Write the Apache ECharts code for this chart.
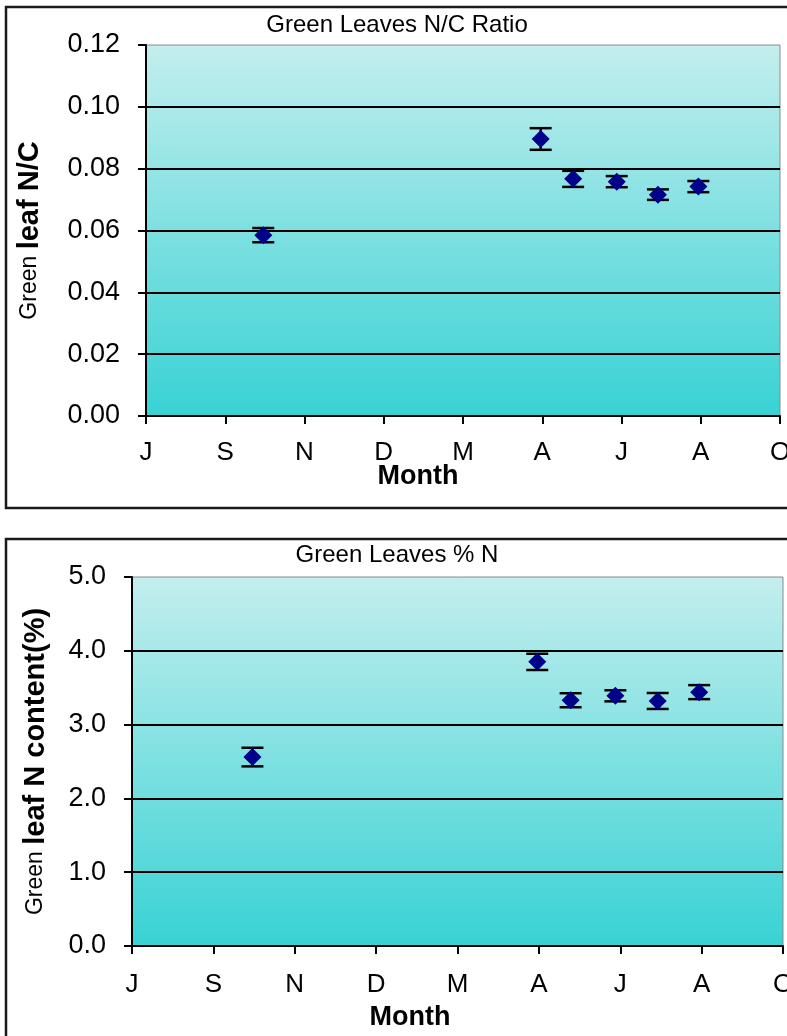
<!DOCTYPE html>
<html lang="en">
<head>
<meta charset="UTF-8">
<title>Green Leaves</title>
<script src="https://cdn.jsdelivr.net/npm/echarts@6/dist/echarts.min.js"></script>
<style>
  html, body { margin: 0; padding: 0; background: #fff; }
</style>
</head>
<body>
<div id="main" style="width:787px;height:1036px;"></div>
<script type="text/javascript">
// month positions on the time axis (0 = first J tick, 1 unit = one tick step)
var monthLabels = ['J', 'S', 'N', 'D', 'M', 'A', 'J', 'A', 'O'];
var sampleX = [1.48, 4.98, 5.39, 5.94, 6.46, 6.97];

// top chart: N/C ratio
var ncRatio = [0.0585, 0.0896, 0.0767, 0.0758, 0.0716, 0.0742];
var ncErr = [0.0023, 0.0035, 0.0026, 0.0018, 0.0017, 0.0018];

// bottom chart: % N
var nPct = [2.56, 3.85, 3.33, 3.39, 3.32, 3.44];
var nErr = [0.126, 0.11, 0.095, 0.075, 0.108, 0.095];

var FONT = '"Liberation Sans", Arial, sans-serif';

function pts(ys) {
    return sampleX.map(function (x, i) { return [x, ys[i]]; });
}
function errPts(ys, es) {
    return sampleX.map(function (x, i) { return [x, ys[i], es[i]]; });
}

function plotBg() {
    return new echarts.graphic.LinearGradient(0, 0, 0, 1, [
        { offset: 0, color: '#c4eeee' },
        { offset: 1, color: '#38d2d4' }
    ]);
}

function errorBar(params, api) {
    var x = api.value(0), y = api.value(1), e = api.value(2);
    var hi = api.coord([x, y + e]);
    var lo = api.coord([x, y - e]);
    var w = 11;
    var st = { stroke: '#000', lineWidth: 2.5 };
    return {
        type: 'group',
        children: [
            { type: 'line', shape: { x1: hi[0], y1: hi[1], x2: lo[0], y2: lo[1] }, style: st },
            { type: 'line', shape: { x1: hi[0] - w, y1: hi[1], x2: hi[0] + w, y2: hi[1] }, style: st },
            { type: 'line', shape: { x1: lo[0] - w, y1: lo[1], x2: lo[0] + w, y2: lo[1] }, style: st }
        ]
    };
}

function xAxisOf(idx, margin) {
    return {
        type: 'value', gridIndex: idx,
        min: 0, max: 8, interval: 1,
        axisLine: { lineStyle: { color: '#000', width: 2 } },
        axisTick: { length: 8, lineStyle: { color: '#000', width: 2 } },
        axisLabel: {
            margin: margin, color: '#000', fontSize: 26, fontFamily: FONT,
            formatter: function (v) { return monthLabels[Math.round(v)]; }
        },
        splitLine: { show: false }
    };
}

function yAxisOf(idx, max, interval, digits, gap, nameText) {
    return {
        type: 'value', gridIndex: idx,
        min: 0, max: max, interval: interval,
        name: nameText,
        nameLocation: 'middle',
        nameGap: gap,
        nameTextStyle: {
            rich: {
                a: { fontSize: 23, fontFamily: FONT, color: '#000' },
                b: { fontSize: 29, fontFamily: FONT, fontWeight: 'bold', color: '#000' }
            }
        },
        axisLine: { show: true, lineStyle: { color: '#000', width: 2 } },
        axisTick: { show: true, length: 8, lineStyle: { color: '#000', width: 2 } },
        axisLabel: {
            margin: 26, color: '#000', fontSize: 27, fontFamily: FONT,
            formatter: function (v) { return v.toFixed(digits); }
        },
        splitLine: { show: true, showMaxLine: false, lineStyle: { color: '#000', width: 2 } }
    };
}

var myChart = echarts.init(document.getElementById('main'), null, { renderer: 'canvas' });

option = {
    animation: false,
    grid: [
        { left: 146, top: 45, width: 634, height: 371, show: true, outerBoundsMode: 'none',
          containLabel: false,
          backgroundColor: plotBg(), borderColor: '#8a8a8a', borderWidth: 1 },
        { left: 132, top: 577, width: 651, height: 369, show: true, outerBoundsMode: 'none',
          containLabel: false,
          backgroundColor: plotBg(), borderColor: '#8a8a8a', borderWidth: 1 }
    ],
    xAxis: [xAxisOf(0, 24), xAxisOf(1, 26)],
    yAxis: [
        yAxisOf(0, 0.12, 0.02, 2, 102, '{a|Green }{b|leaf N/C}'),
        yAxisOf(1, 5, 1, 1, 82, '{a|Green }{b|leaf N content(%)}')
    ],
    graphic: [
        { type: 'rect', z: -1, shape: { x: 6, y: 7, width: 800, height: 501 },
          style: { fill: 'none', stroke: '#1a1a1a', lineWidth: 2.5 } },
        { type: 'rect', z: -1, shape: { x: 6, y: 539, width: 800, height: 600 },
          style: { fill: 'none', stroke: '#1a1a1a', lineWidth: 2.5 } },
        { type: 'text', x: 397, y: 25,
          style: { text: 'Green Leaves N/C Ratio', font: '24px ' + FONT, fill: '#000',
                   textAlign: 'center', textVerticalAlign: 'middle' } },
        { type: 'text', x: 397, y: 555,
          style: { text: 'Green Leaves % N', font: '24px ' + FONT, fill: '#000',
                   textAlign: 'center', textVerticalAlign: 'middle' } },
        { type: 'text', x: 418, y: 477,
          style: { text: 'Month', font: 'bold 27px ' + FONT, fill: '#000',
                   textAlign: 'center', textVerticalAlign: 'middle' } },
        { type: 'text', x: 410, y: 1018,
          style: { text: 'Month', font: 'bold 27px ' + FONT, fill: '#000',
                   textAlign: 'center', textVerticalAlign: 'middle' } }
    ],
    series: [
        { type: 'custom', xAxisIndex: 0, yAxisIndex: 0, renderItem: errorBar,
          data: errPts(ncRatio, ncErr), z: 3 },
        { type: 'scatter', xAxisIndex: 0, yAxisIndex: 0, symbol: 'diamond', symbolSize: 18,
          itemStyle: { color: '#00008a', opacity: 1 }, data: pts(ncRatio), z: 4 },
        { type: 'custom', xAxisIndex: 1, yAxisIndex: 1, renderItem: errorBar,
          data: errPts(nPct, nErr), z: 3 },
        { type: 'scatter', xAxisIndex: 1, yAxisIndex: 1, symbol: 'diamond', symbolSize: 18,
          itemStyle: { color: '#00008a', opacity: 1 }, data: pts(nPct), z: 4 }
    ]
};
myChart.setOption(option);
</script>
</body>
</html>
